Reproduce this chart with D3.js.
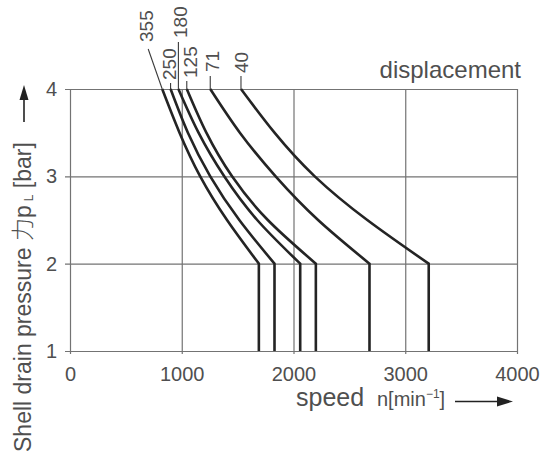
<!DOCTYPE html>
<html>
<head>
<meta charset="utf-8">
<script src="https://cdn.jsdelivr.net/npm/d3@7"></script>
<style>
  body { margin: 0; background: #fff; }
  svg { display: block; font-family: "Liberation Sans", Arial, "Noto Sans CJK SC", sans-serif; }
</style>
</head>
<body>
<div id="chart"></div>
<script>
// displacement curves: shell drain pressure vs. speed
var displacements = ["355", "250", "180", "125", "71", "40"];
var pressures = [4, 3.5, 3, 2.5, 2];     // bar, points along each curve
var floorPressure = 1;                    // vertical drop ends here

// speed (min-1) at each pressure above, one row per displacement
var speed355 = [825, 980, 1165, 1405, 1690];
var speed250 = [900, 1055, 1255, 1515, 1830];
var speed180 = [970, 1150, 1380, 1675, 2060];
var speed125 = [1045, 1220, 1450, 1770, 2200];
var speed71 = [1255, 1520, 1840, 2220, 2680];
var speed40 = [1530, 1830, 2190, 2660, 3210];

var xTicks = [0, 1000, 2000, 3000, 4000];
var yTicks = [1, 2, 3, 4];

var series = [speed355, speed250, speed180, speed125, speed71, speed40];

// label placement (layout only): offset of label centre from curve top, label bottom y
var labelLayout = {
  "355": { dx: -16.5, bottom: 42, leader: "slant" },
  "250": { dx: -2, bottom: 80, leader: 83 },
  "180": { dx: 1.5, bottom: 38, leader: 42 },
  "125": { dx: 3.5, bottom: 78, leader: 81 },
  "71": { dx: 1.5, bottom: 72, leader: 76 },
  "40": { dx: 0.5, bottom: 73, leader: 76 }
};

var W = 555, H = 454;
var textColor = "#4f4f4f", gridColor = "#737373", curveColor = "#242424";

var svg = d3.select("#chart").append("svg")
  .attr("width", W)
  .attr("height", H);

var x = d3.scaleLinear().domain([0, 4000]).range([70, 517]);
var y = d3.scaleLinear().domain([1, 4]).range([351, 89]);

// horizontal grid + y labels, axis hung from the right edge
var yAxis = svg.append("g")
  .attr("transform", "translate(" + x(4000) + ",0)")
  .call(d3.axisLeft(y).tickValues(yTicks).tickSize(x(4000) - x(0) + 5).tickPadding(8).tickFormat(d3.format("d")));

// vertical grid + x labels, axis hung from the top edge
var xAxis = svg.append("g")
  .attr("transform", "translate(0," + y(4) + ")")
  .call(d3.axisBottom(x).tickValues(xTicks).tickSize(y(1) - y(4) + 3).tickPadding(13).tickFormat(d3.format("d")));

[xAxis, yAxis].forEach(function (g) {
  g.select(".domain").remove();
  g.selectAll(".tick line").attr("stroke", gridColor).attr("stroke-width", 1.2);
  g.selectAll(".tick text")
    .attr("fill", textColor)
    .style("font-size", "20px")
    .style("font-family", "'Liberation Sans', Arial, sans-serif");
});

// curves with vertical drop at the knee
var line = d3.line()
  .x(function (d) { return x(d[0]); })
  .y(function (d) { return y(d[1]); })
  .curve(d3.curveNatural);

var curves = svg.append("g").attr("class", "curves");

series.forEach(function (speeds, i) {
  var pts = speeds.map(function (s, j) { return [s, pressures[j]]; });
  var knee = speeds[speeds.length - 1];
  var path = line(pts) + "L" + x(knee) + "," + y(floorPressure);

  curves.append("path")
    .attr("d", path)
    .attr("fill", "none")
    .attr("stroke", curveColor)
    .attr("stroke-width", 2.6)
    .attr("stroke-linejoin", "miter");

  // label + leader
  var name = displacements[i];
  var lay = labelLayout[name];
  var topX = x(speeds[0]);
  var cx = topX + lay.dx;

  if (lay.leader === "slant") {
    curves.append("line")
      .attr("x1", cx + 2.5).attr("y1", lay.bottom + 7)
      .attr("x2", topX).attr("y2", y(4))
      .attr("stroke", "#3a3a3a").attr("stroke-width", 1.1);
  } else {
    curves.append("line")
      .attr("x1", topX).attr("y1", lay.leader)
      .attr("x2", topX).attr("y2", y(4))
      .attr("stroke", "#3a3a3a").attr("stroke-width", 1.1);
  }

  curves.append("text")
    .attr("transform", "translate(" + (cx + 7) + "," + lay.bottom + ") rotate(-90)")
    .attr("fill", textColor)
    .style("font-size", "19px")
    .text(name);
});

// legend title
svg.append("text")
  .attr("x", 521)
  .attr("y", 78)
  .attr("text-anchor", "end")
  .attr("fill", textColor)
  .style("font-size", "24px")
  .text("displacement");

// y title, rotated
var yTitle = svg.append("text")
  .attr("transform", "translate(31,452) rotate(-90)")
  .attr("fill", textColor)
  .style("font-size", "23px");
yTitle.append("tspan").text("Shell drain pressure ");
yTitle.append("tspan").style("font-family", "'Noto Sans CJK SC', sans-serif").style("font-weight", 300).text("力");
yTitle.append("tspan").text("p");
yTitle.append("tspan").attr("dx", 4).attr("dy", 2).style("font-size", "12px").text("L");
yTitle.append("tspan").attr("dy", -2).text(" [bar]");

// y arrow
svg.append("line")
  .attr("x1", 24).attr("y1", 122).attr("x2", 24).attr("y2", 98)
  .attr("stroke", "#222").attr("stroke-width", 1.6);
svg.append("path")
  .attr("d", "M24,85L19.5,100L28.5,100Z")
  .attr("fill", "#222");

// x title
svg.append("text")
  .attr("x", 296)
  .attr("y", 406)
  .attr("fill", textColor)
  .style("font-size", "25px")
  .text("speed");

var unit = svg.append("text")
  .attr("x", 377)
  .attr("y", 406)
  .attr("fill", textColor)
  .style("font-size", "20px");
unit.append("tspan").text("n[min");
unit.append("tspan").attr("dy", -8).style("font-size", "12px").text("−1");
unit.append("tspan").attr("dy", 8).text("]");

// x arrow
svg.append("line")
  .attr("x1", 455).attr("y1", 401.5).attr("x2", 499).attr("y2", 401.5)
  .attr("stroke", "#222").attr("stroke-width", 1.6);
svg.append("path")
  .attr("d", "M513,401.5L497,396.5L497,406.5Z")
  .attr("fill", "#222");
</script>
</body>
</html>
